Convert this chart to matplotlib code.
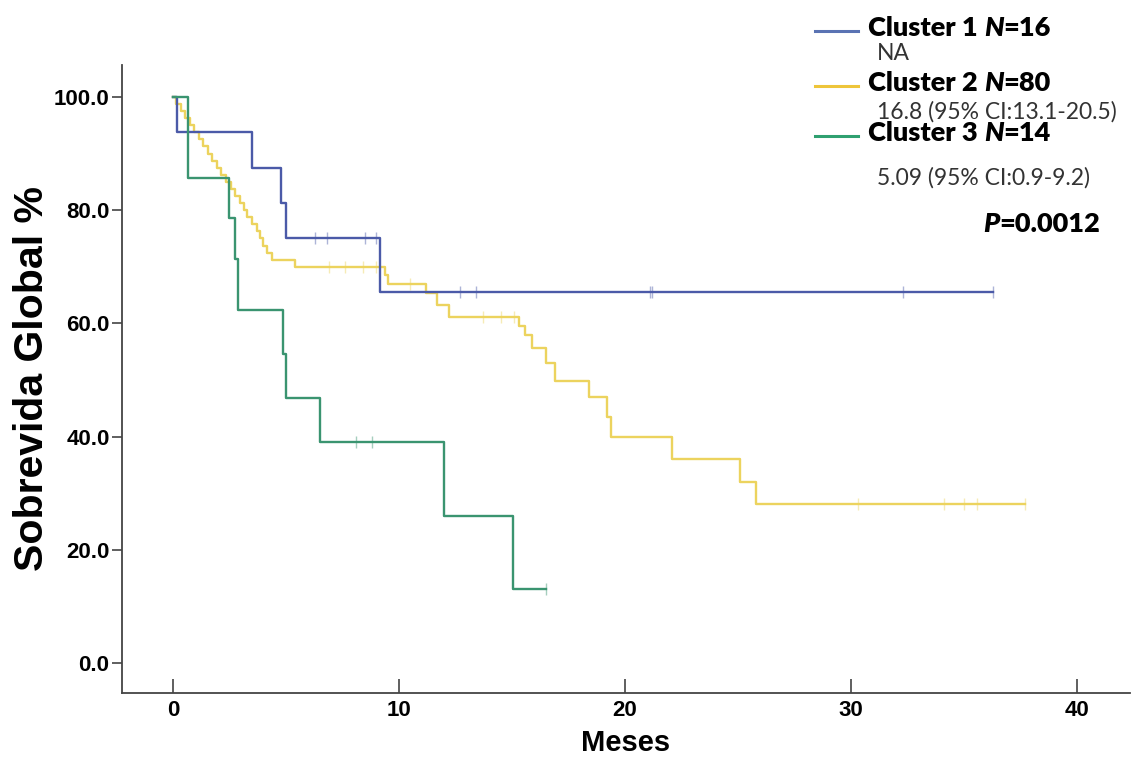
import numpy as np
import matplotlib
matplotlib.use('Agg')
import matplotlib.pyplot as plt
from matplotlib.lines import Line2D

# --------------------------------------------------
# Kaplan-Meier curves
# --------------------------------------------------
# Cluster 1, N=16
c1_t = [0, 0.17, 3.5, 4.8, 5.0, 9.15, 36.3]
c1_s = [100, 93.75, 87.5, 81.25, 75.0, 65.6, 65.6]
c1_cens = [6.3, 6.8, 8.5, 9.0, 12.7, 13.4, 21.1, 21.2, 32.3, 36.3]

# Cluster 2, N=80
c2_t = [0, 0.15, 0.35, 0.55, 0.75, 0.95, 1.15, 1.35, 1.55, 1.75,
        1.95, 2.15, 2.35, 2.55, 2.75, 2.95, 3.15, 3.3, 3.5, 3.7,
        3.85, 4.0, 4.15, 4.4, 5.4, 9.4, 9.5, 11.2, 11.7, 12.2,
        15.3, 15.6, 15.9, 16.5, 16.9, 18.4, 19.2, 19.4, 22.1, 25.1,
        25.8, 37.7]
c2_s = [100, 98.75, 97.5, 96.25, 95.0, 93.75, 92.5, 91.25, 90.0, 88.75,
        87.5, 86.25, 85.0, 83.75, 82.5, 81.25, 80.0, 78.75, 77.5, 76.25,
        75.0, 73.75, 72.5, 71.25, 70.0, 68.5, 67.0, 65.4, 63.3, 61.2,
        59.6, 58.0, 55.7, 53.0, 49.8, 47.0, 43.5, 39.9, 36.0, 32.0,
        28.1, 28.1]
c2_cens = [6.9, 7.6, 8.4, 9.0, 10.5, 13.7, 14.5, 15.1, 30.3, 34.1, 35.0, 35.6, 37.7]

# Cluster 3, N=14
c3_t = [0, 0.67, 2.5, 2.75, 2.9, 4.87, 5.0, 6.5, 12.0, 15.05, 16.5]
c3_s = [100, 85.7, 78.6, 71.4, 62.4, 54.6, 46.8, 39.0, 26.0, 13.0, 13.0]
c3_cens = [8.1, 8.8, 16.5]

names = ['Cluster 1 ', 'Cluster 2 ', 'Cluster 3 ']
n_vals = ['=16', '=80', '=14']
medians = ['NA', '16.8 (95% CI:13.1-20.5)', '5.09 (95% CI:0.9-9.2)']
p_value = '=0.0012'

xticks = [0, 10, 20, 30, 40]
yticks = [0, 20, 40, 60, 80, 100]

colors = ['#4b5aa8', '#ecd35e', '#3a9470']
legend_colors = ['#5a73b3', '#eec53a', '#2fa070']


def surv_at(t, s, x):
    idx = np.searchsorted(t, x, side='right') - 1
    return np.array(s)[idx]


fig = plt.figure(figsize=(11.33, 7.61), dpi=100)
ax = fig.add_axes([0.1077, 0.0894, 0.8897, 0.8252])

curves = [(c2_t, c2_s, c2_cens, colors[1]),
          (c1_t, c1_s, c1_cens, colors[0]),
          (c3_t, c3_s, c3_cens, colors[2])]
for t, s, cens, col in curves:
    ax.step(t, s, where='post', color=col, lw=1.7, zorder=3)
    ax.plot(cens, surv_at(t, s, cens), ls='none', marker='|',
            ms=9, mew=1.0, color=col, alpha=0.45, zorder=3)

ax.set_xlim(-2.25, 42.35)
ax.set_ylim(-5.3, 105.65)
ax.set_xticks(xticks)
ax.set_yticks(yticks)
ax.set_yticklabels(['%.1f' % v for v in yticks])

for sp in ['top', 'right']:
    ax.spines[sp].set_visible(False)
for sp in ['left', 'bottom']:
    ax.spines[sp].set_color('#444444')
    ax.spines[sp].set_linewidth(1.3)

ax.tick_params(axis='x', direction='in', length=10, width=1.2, color='#444444', pad=5)
ax.tick_params(axis='y', direction='out', length=7, width=1.2, color='#444444', pad=2)
for lab in ax.get_xticklabels() + ax.get_yticklabels():
    lab.set_fontfamily('Liberation Sans')
    lab.set_fontweight('bold')
    lab.set_fontsize(16)

ax.set_xlabel('Meses', fontfamily='Liberation Sans', fontweight='bold',
              fontsize=21, labelpad=6)
ax.set_ylabel('Sobrevida Global %', fontfamily='Liberation Sans', fontweight='bold',
              fontsize=29.5, labelpad=2)

# --------------------------------------------------
# legend block (top right)
# --------------------------------------------------
line_y = [1 - 31 / 761, 1 - 86 / 761, 1 - 136 / 761]
sub_y = [1 - 53 / 761, 1 - 112 / 761, 1 - 178 / 761]
lx0, lx1 = 815 / 1133, 858 / 1133
tx = 868 / 1133
sx = 877 / 1133
lfont = 'Lato'
for i in range(3):
    fig.add_artist(Line2D([lx0, lx1], [line_y[i], line_y[i]], color=legend_colors[i],
                          lw=2.2, transform=fig.transFigure))
    t1 = fig.text(tx, line_y[i] + 0.004, names[i], fontfamily=lfont, fontweight='heavy',
                  fontsize=19.5, va='center', ha='left')
    t2 = ax.annotate('N', xy=(1, 0), xycoords=t1, fontfamily=lfont, fontweight='heavy',
                     fontstyle='italic', fontsize=19.5, va='bottom', ha='left')
    ax.annotate(n_vals[i], xy=(1, 0), xycoords=t2, fontfamily=lfont, fontweight='heavy',
                fontsize=19.5, va='bottom', ha='left')
    fig.text(sx, sub_y[i], medians[i], fontfamily=lfont, fontsize=16.5,
             color='#333333', va='center', ha='left')

tp = fig.text(983 / 1133, 1 - 224 / 761, 'P', fontfamily=lfont, fontweight='heavy',
              fontstyle='italic', fontsize=19.5, va='center', ha='left')
ax.annotate(p_value, xy=(1, 0), xycoords=tp, fontfamily=lfont, fontweight='heavy',
            fontsize=19.5, va='bottom', ha='left')

fig.savefig('out.png', dpi=100)
